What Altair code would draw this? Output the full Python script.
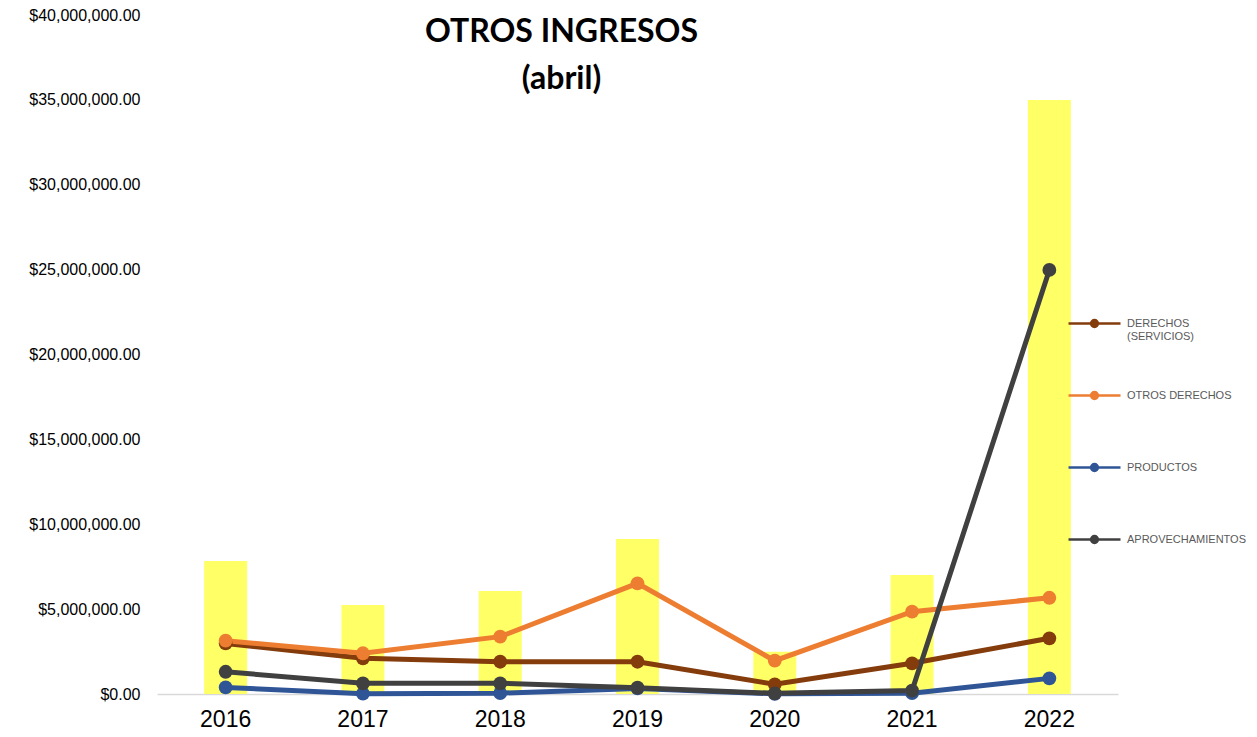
import altair as alt
import pandas as pd

years = ["2016", "2017", "2018", "2019", "2020", "2021", "2022"]
total = [7830000, 5240000, 6070000, 9130000, 2490000, 7010000, 35000000]
derechos = [2980000, 2100000, 1900000, 1900000, 570000, 1810000, 3280000]
otros_derechos = [3140000, 2400000, 3380000, 6520000, 1960000, 4850000, 5670000]
productos = [390000, 20000, 50000, 330000, 10000, 50000, 920000]
aprovechamientos = [1310000, 630000, 630000, 370000, 40000, 200000, 24980000]

series_names = ["DERECHOS (SERVICIOS)", "OTROS DERECHOS", "PRODUCTOS", "APROVECHAMIENTOS"]
series_colors = ["#843C0C", "#ED7D31", "#2F5597", "#404040"]

bars_df = pd.DataFrame({"year": years, "total": total})
rows = []
for name, vals in zip(series_names, [derechos, otros_derechos, productos, aprovechamientos]):
    for y, v in zip(years, vals):
        rows.append({"year": y, "serie": name, "valor": v})
lines_df = pd.DataFrame(rows)

x_scale = alt.Scale(domain=years, paddingInner=0.687, paddingOuter=0.3435)
y_scale = alt.Scale(domain=[0, 40000000])
color_scale = alt.Scale(domain=series_names, range=series_colors)

x_axis = alt.Axis(title=None, labelAngle=0, ticks=False, domainColor="#D9D9D9", domainWidth=1.5,
                  labelFontSize=23, labelPadding=14, labelColor="#000000", labelFont="Liberation Sans")
y_axis = alt.Axis(title=None, format="$,.2f", tickCount=8, grid=False, domain=False, ticks=False,
                  tickSize=0, labelFontSize=16, labelPadding=17, labelColor="#000000",
                  labelFont="Liberation Sans")

legend = alt.Legend(
    title=None, orient="none", legendX=910, legendY=281,
    symbolType="M-1,0H1M-0.13,0a0.13,0.13 0 1,0 0.26,0a0.13,0.13 0 1,0 -0.26,0",
    symbolSize=2704, symbolStrokeWidth=2.5, labelFontSize=11, labelColor="#595959",
    labelFont="Liberation Sans", labelOffset=5, rowPadding=26, gridAlign="all",
    labelExpr="datum.label == 'DERECHOS (SERVICIOS)' ? ['DERECHOS', '(SERVICIOS)'] : datum.label",
)

bars = alt.Chart(bars_df).mark_bar(color="#FFFF66").encode(
    x=alt.X("year:N", scale=x_scale, axis=x_axis),
    y=alt.Y("total:Q", scale=y_scale, axis=y_axis),
)

lines = alt.Chart(lines_df).mark_line(strokeWidth=5).encode(
    x=alt.X("year:N", scale=x_scale),
    y=alt.Y("valor:Q", scale=y_scale),
    color=alt.Color("serie:N", scale=color_scale, legend=legend),
    order=alt.Order("year:N"),
)

points = alt.Chart(lines_df).mark_circle(size=190, opacity=1).encode(
    x=alt.X("year:N", scale=x_scale),
    y=alt.Y("valor:Q", scale=y_scale),
    color=alt.Color("serie:N", scale=color_scale, legend=legend),
)

chart = alt.layer(bars, lines, points).properties(
    width=961, height=679,
    background="white",
    padding={"left": 149, "top": 7, "right": 131, "bottom": 44},
    autosize=alt.AutoSizeParams(type="none"),
    title=alt.TitleParams(
        text=["OTROS INGRESOS", "(abril)"], font="Lato", fontSize=32, fontWeight="bold",
        color="#000000", anchor="middle", frame="group", offset=0,
        dx=-76, dy=89, lineHeight=47,
    ),
).configure_view(strokeWidth=0, stroke="transparent")

chart.save("out.html", embed_options={"renderer": "svg", "actions": False})
